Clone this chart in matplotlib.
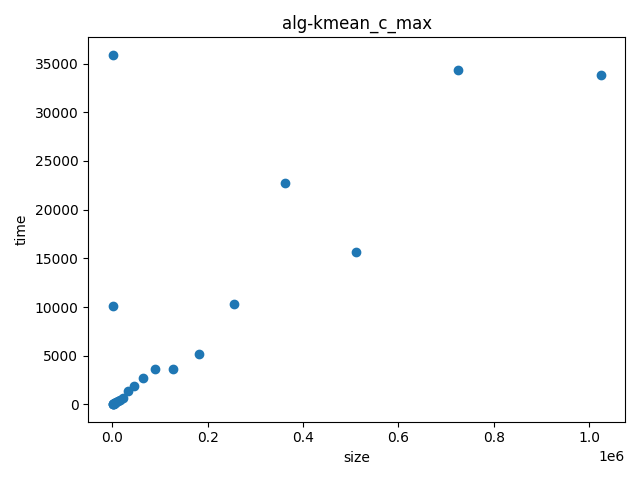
import matplotlib
matplotlib.use("Agg")
import matplotlib.pyplot as plt

sizes = [500, 700, 1000, 1414, 2000, 2828, 4000, 5657, 8000, 11314, 16000, 22627,
         32000, 45255, 64000, 90510, 128000, 181019, 256000, 362039, 512000,
         724077, 1024000]
times = [35900, 10100, 20, 40, 60, 90, 120, 180, 250, 320, 450, 620,
         1340, 1850, 2680, 3650, 3600, 5150, 10290, 22750, 15650,
         34380, 33870]

fig, ax = plt.subplots(figsize=(6.4, 4.8), dpi=100)
ax.scatter(sizes, times)
ax.set_title("alg-kmean_c_max")
ax.set_xlabel("size")
ax.set_ylabel("time")
fig.tight_layout()
fig.savefig("out.png")
